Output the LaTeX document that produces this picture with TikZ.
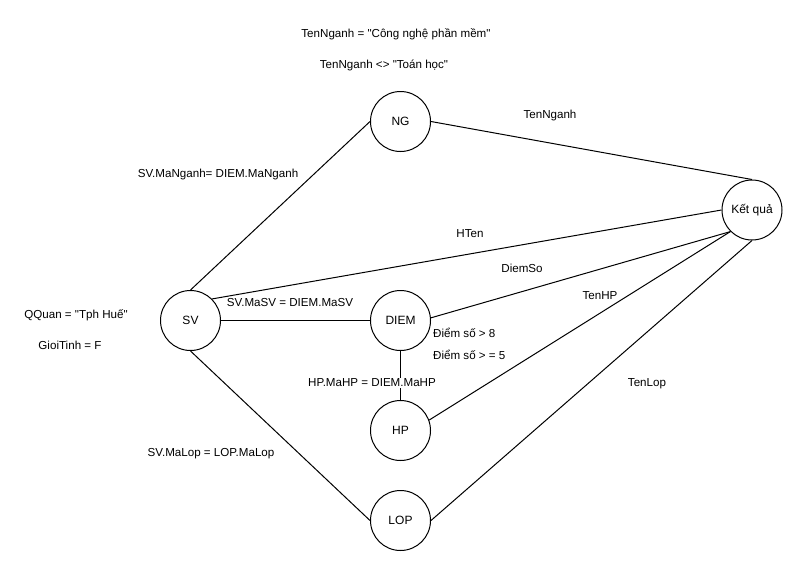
\documentclass[tikz,border=0pt]{standalone}
\usepackage{fontspec}
\setmainfont{Liberation Sans}[Ligatures=TeXOff]
\begin{document}
\begin{tikzpicture}[x=1pt,y=-1pt,
  ent/.style={circle,draw,line width=1pt,minimum size=60pt,inner sep=0pt,font=\fontsize{12}{14}\selectfont},
  lbl/.style={font=\fontsize{11.6}{14}\selectfont,inner sep=1pt},
  conn/.style={line width=1pt}]
\useasboundingbox (0,0) rectangle (801,571);
\node[ent] (NG) at (400.5,121.5) {NG};
\node[ent] (SV) at (190.5,320.5) {SV};
\node[ent] (DIEM) at (400.5,320.5) {DIEM};
\node[ent] (HP) at (400.5,430.5) {HP};
\node[ent] (LOP) at (400.5,520.5) {LOP};
\node[ent] (KQ) at (752,210) {Kết quả};

\draw[conn] (SV.north) -- (NG.west);
\draw[conn] (NG.east) -- (KQ.north);
\draw[conn] (SV.45) -- (KQ.west);
\draw[conn] (SV.east) -- (DIEM.west);
\draw[conn] (DIEM.5) -- (KQ.south west);
\draw[conn] (HP.20) -- (KQ.south west);
\draw[conn] (SV.south) -- (LOP.west);
\draw[conn] (LOP.east) -- (KQ.south);
\draw[conn] (DIEM.south) -- (HP.north);

\node[lbl] (t1) at (396,34) {TenNganh = "Công nghệ phần mềm"};
\node[lbl] (t2) at (384,65) {TenNganh <> "Toán học"};
\node[lbl] (t3) at (550,115) {TenNganh};
\node[lbl] (t4) at (218,174) {SV.MaNganh= DIEM.MaNganh};
\node[lbl] (t5) at (470,234) {HTen};
\node[lbl] (t6) at (522,268) {DiemSo};
\node[lbl] (t7) at (600,296) {TenHP};
\node[lbl] (t8) at (76,315) {QQuan = "Tph Huế"};
\node[lbl] (t9) at (70,345) {GioiTinh = F};
\node[lbl] (t10) at (290,303) {SV.MaSV = DIEM.MaSV};
\node[lbl,anchor=west] (t11) at (432,333) {Điểm số > 8};
\node[lbl,anchor=west] (t12) at (432,355) {Điểm số > = 5};
\node[lbl,fill=white] (t13) at (372,383) {HP.MaHP = DIEM.MaHP};
\node[lbl] (t14) at (647,384) {TenLop};
\node[lbl] (t15) at (211,454) {SV.MaLop = LOP.MaLop};
\end{tikzpicture}
\end{document}
